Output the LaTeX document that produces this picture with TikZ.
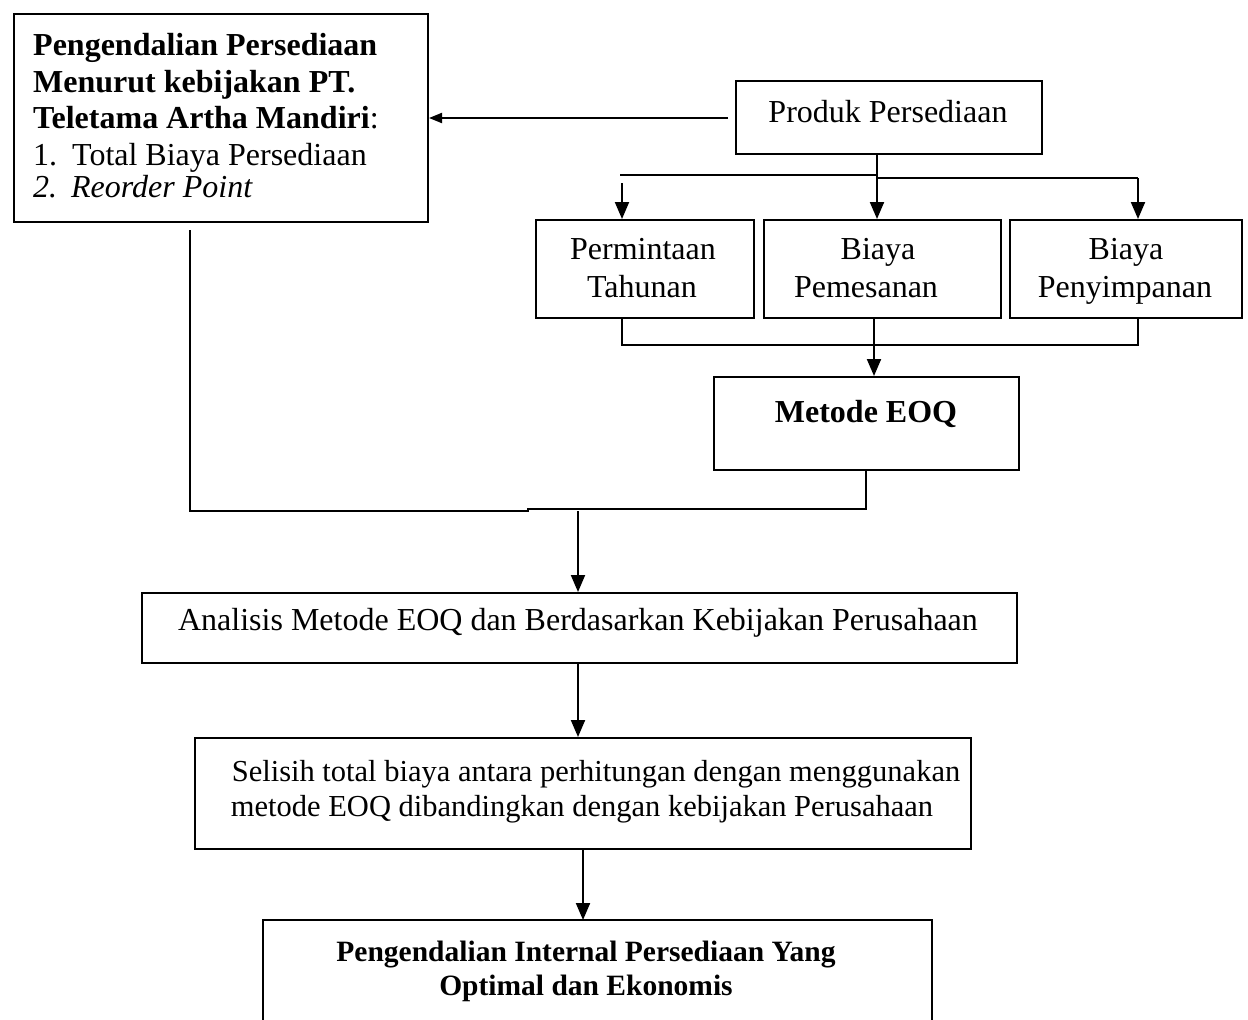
\documentclass[tikz,border=0pt]{standalone}
\usepackage{fontspec}
\usepackage{graphicx}
\setmainfont{Liberation Serif}
\usetikzlibrary{arrows.meta}
\tikzset{
  box/.style={draw, line width=2pt, inner sep=0pt, anchor=north west},
  ln/.style={line width=2pt},
  arr/.style={line width=2pt, -{Triangle[width=14pt,length=17pt]}},
  sarr/.style={line width=2pt, -{Triangle[width=10pt,length=13pt]}},
  big/.style={font=\fontsize{32}{36}\selectfont, inner sep=0pt},
  mid/.style={font=\fontsize{30.5}{35}\selectfont, inner sep=0pt},
  fint/.style={font=\fontsize{29.5}{34}\selectfont\bfseries, inner sep=0pt},
}
\begin{document}
\begin{tikzpicture}[x=1pt,y=-1pt]
\useasboundingbox (0,0) rectangle (1248,1020);
% boxes
\node[box, minimum width=414pt, minimum height=208pt] (left) at (13,13) {};
\node[box, minimum width=306pt, minimum height=73pt] (prod) at (735,80) {};
\node[box, minimum width=218pt, minimum height=98pt] (perm) at (535,219) {};
\node[box, minimum width=237pt, minimum height=98pt] (pem) at (763,219) {};
\node[box, minimum width=232pt, minimum height=98pt] (peny) at (1009,219) {};
\node[box, minimum width=305pt, minimum height=93pt] (eoq) at (713,376) {};
\node[box, minimum width=875pt, minimum height=70pt] (anal) at (141,592) {};
\node[box, minimum width=776pt, minimum height=111pt] (sel) at (194,737) {};
\node[inner sep=0pt, anchor=north west, minimum width=669pt, minimum height=100pt] (fin) at (263,920) {};
\draw[ln] (fin.south west) -- (fin.north west) -- (fin.north east) -- (fin.south east);
% texts
\node[big, anchor=base west] (l1) at (33,55) {\bfseries Pengendalian Persediaan};
\node[big, anchor=base west] (l2) at (33,92) {\bfseries Menurut kebijakan PT.};
\node[big, anchor=base west] (l3) at (33,128) {\textbf{Teletama Artha Mandiri}:};
\node[big, anchor=base west] (l4) at (33,165) {\makebox[39pt][l]{1.}Total Biaya Persediaan};
\node[big, anchor=base west] (l5) at (33,197) {\itshape\makebox[38pt][l]{2.}Reorder Point};
\node[big, anchor=base] (tprod) at (888,122) {Produk Persediaan};
\node[big, anchor=base] (tperm1) at (643,259) {Permintaan};
\node[big, anchor=base] (tperm2) at (642,297) {Tahunan};
\node[big, anchor=base] (tpem1) at (878,259) {Biaya};
\node[big, anchor=base] (tpem2) at (866,297) {Pemesanan};
\node[big, anchor=base] (tpeny1) at (1126,259) {Biaya};
\node[big, anchor=base] (tpeny2) at (1125,297) {Penyimpanan};
\node[big, anchor=base] (teoq) at (866,422) {\bfseries Metode EOQ};
\node[big, anchor=base] (tanal) at (578,630) {Analisis Metode EOQ dan Berdasarkan Kebijakan Perusahaan};
\node[mid, anchor=base] (tsel1) at (596,781) {Selisih total biaya antara perhitungan dengan menggunakan};
\node[mid, anchor=base] (tsel2) at (582,816) {metode EOQ dibandingkan dengan kebijakan Perusahaan};
\node[fint, anchor=base] (tfin1) at (586,961) {Pengendalian Internal Persediaan Yang};
\node[fint, anchor=base] (tfin2) at (586,995) {Optimal dan Ekonomis};
% coordinates
\coordinate (a0) at (728,118);
\coordinate (b0) at (877,175);
\coordinate (b1) at (620,175);
\coordinate (b2) at (877,178);
\coordinate (b3) at (1138,178);
\coordinate (b4) at (622,183);
\coordinate (m1) at (622,345);
\coordinate (m2) at (1138,345);
\coordinate (m3) at (874,345);
\coordinate (e1) at (866,509);
\coordinate (e2) at (528,509);
\coordinate (e3) at (528,511);
\coordinate (e4) at (190,511);
\coordinate (e5) at (578,511);
% connectors
\draw[sarr] (a0) -- (left.east |- a0);
\draw[arr] (prod.south -| b0) -- (pem.north -| b0);
\draw[ln] (b1) -- (b0) -- (b2) -- (b3);
\draw[arr] (b3) -- (peny.north -| b3);
\draw[arr] (b4) -- (perm.north -| b4);
\draw[ln] (perm.south -| m1) -- (m1) -- (m2) -- (peny.south -| m2);
\draw[arr] (pem.south -| m3) -- (eoq.north -| m3);
\draw[ln] (eoq.south -| e1) -- (e1) -- (e2) -- (e3) -- (e4) -- ([yshift=-7pt]left.south -| e4);
\draw[arr] (e5) -- (anal.north -| e5);
\draw[arr] (anal.south -| 578,0) -- (sel.north -| 578,0);
\draw[arr] (sel.south -| 583,0) -- (fin.north -| 583,0);
\end{tikzpicture}
\end{document}
